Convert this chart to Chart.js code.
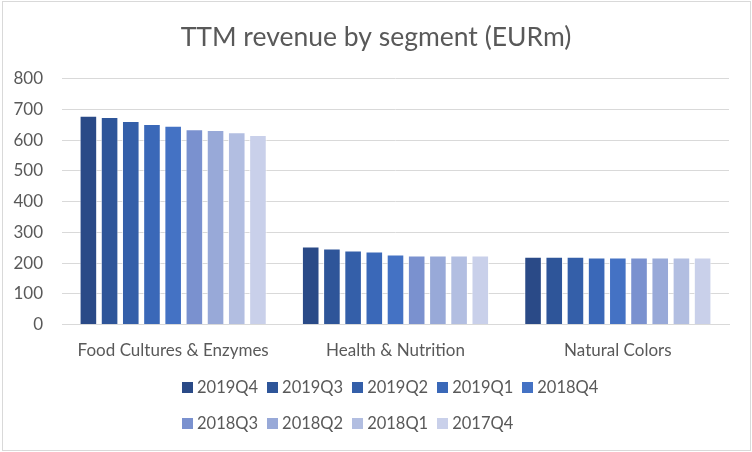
<!DOCTYPE html>
<html>
<head>
    <meta charset="utf-8">
    <title>TTM revenue by segment</title>
    <script src="https://cdn.jsdelivr.net/npm/chart.js@4"></script>
    <style>
        body { margin: 0; background: #fff; font-family: Lato, sans-serif; }
        #frame { position: absolute; left: 2px; top: 1px; width: 747px; height: 448px; border: 1px solid #d9d9d9; }
        #wrap { position: absolute; left: 0; top: 0; width: 752px; height: 452px; }
        #legend { position: absolute; left: 182px; top: 375px; width: 440px; display: flex; flex-wrap: wrap; }
        .item { display: flex; align-items: center; height: 24px; margin: 0 9px 12px 0; color: #595959; font-size: 16.5px; }
        .box { width: 11px; height: 11px; margin-right: 4px; }
    </style>
</head>
<body>
<div id="frame"></div>
<div id="wrap"><canvas id="chart" width="752" height="452"></canvas></div>
<div id="legend"></div>
<script>
var segments = ["Food Cultures & Enzymes", "Health & Nutrition", "Natural Colors"];
var quarters = ["2019Q4", "2019Q3", "2019Q2", "2019Q1", "2018Q4", "2018Q3", "2018Q2", "2018Q1", "2017Q4"];
// values per segment, in quarter order above
var foodCultures = [680, 676, 663, 653, 647, 636, 633, 626, 617];
var healthNutrition = [254, 248, 241, 238, 228, 225, 225, 225, 225];
var naturalColors = [221, 221, 221, 218, 218, 218, 218, 218, 218];
var yTicks = [0, 100, 200, 300, 400, 500, 600, 700, 800];

var colors = ["#2a4a87", "#2e5599", "#345fa9", "#3a68b8", "#4472c4", "#7a91cf", "#98a9d8", "#b2bee1", "#c9d0ea"];

var datasets = quarters.map(function(q, i) {
    return {
        label: q,
        data: [foodCultures[i], healthNutrition[i], naturalColors[i]],
        backgroundColor: colors[i],
        borderColor: "rgba(255,255,255,0.7)",
        borderWidth: 1,
        categoryPercentage: 0.858,
        barPercentage: 0.83
    };
});

var grey = "#595959";
new Chart(document.getElementById("chart"), {
    type: "bar",
    data: { labels: segments, datasets: datasets },
    options: {
        responsive: false,
        animation: false,
        layout: { padding: { left: 0, right: 0, bottom: 83 } },
        plugins: {
            legend: { display: false },
            tooltip: { enabled: false },
            title: {
                display: true,
                text: "TTM revenue by segment (EURm)",
                color: grey,
                font: { family: "Lato", size: 26.5, weight: "normal" },
                padding: { top: 22, bottom: 25 }
            }
        },
        scales: {
            x: {
                grid: { display: false },
                border: { color: "#d9d9d9", width: 1 },
                ticks: { color: grey, font: { family: "Lato", size: 17 }, padding: 8, maxRotation: 0 }
            },
            y: {
                min: 0,
                max: 800,
                afterFit: function(s) { s.width = 62; },
                afterBuildTicks: function(s) { s.ticks = yTicks.map(function(v) { return { value: v }; }); },
                grid: { color: "#d9d9d9", drawTicks: false },
                border: { display: false },
                ticks: { color: grey, font: { family: "Lato", size: 17 }, padding: 19 }
            },
            // empty right axis, only reserves the right margin
            yRight: {
                position: "right",
                min: 0,
                max: 800,
                afterFit: function(s) { s.width = 23; },
                grid: { display: false },
                border: { display: false },
                ticks: { display: false }
            }
        }
    }
});

var legend = document.getElementById("legend");
quarters.forEach(function(q, i) {
    var item = document.createElement("div");
    item.className = "item";
    var box = document.createElement("span");
    box.className = "box";
    box.style.background = colors[i];
    var txt = document.createElement("span");
    txt.textContent = q;
    item.appendChild(box);
    item.appendChild(txt);
    legend.appendChild(item);
});
</script>
</body>
</html>
